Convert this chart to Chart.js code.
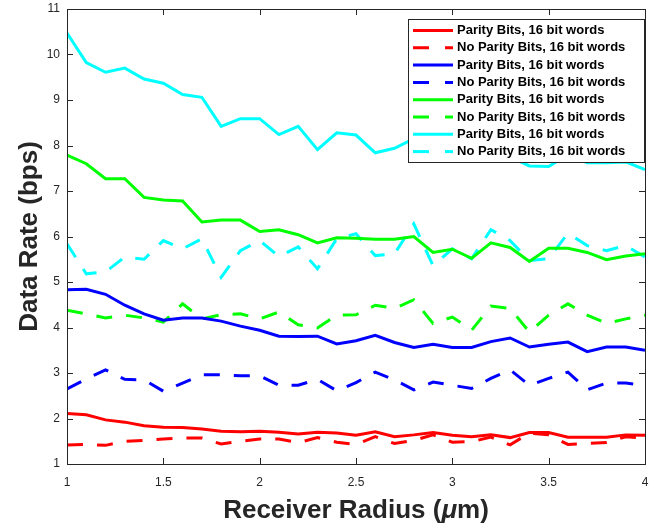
<!DOCTYPE html>
<html>
<head>
<meta charset="utf-8">
<script src="https://cdn.jsdelivr.net/npm/chart.js@4.4.1/dist/chart.umd.min.js"></script>
<style>
  html, body { margin: 0; padding: 0; background: #fff; }
  #wrap { width: 662px; height: 525px; }
</style>
</head>
<body>
<div id="wrap"><canvas id="myChart" width="662" height="525"></canvas></div>
<script>
// Receiver radius (um)
const radius = [1.0, 1.1, 1.2, 1.3, 1.4, 1.5, 1.6, 1.7, 1.8, 1.9, 2.0, 2.1, 2.2, 2.3, 2.4, 2.5,
                2.6, 2.7, 2.8, 2.9, 3.0, 3.1, 3.2, 3.3, 3.4, 3.5, 3.6, 3.7, 3.8, 3.9, 4.0];

const redParity = [2.11, 2.08, 1.97, 1.92, 1.84, 1.81, 1.80, 1.77, 1.72, 1.71, 1.72, 1.70, 1.66, 1.70, 1.68, 1.63,
                   1.71, 1.60, 1.64, 1.69, 1.63, 1.60, 1.64, 1.58, 1.69, 1.69, 1.59, 1.59, 1.59, 1.64, 1.63];
const redNoParity = [1.42, 1.43, 1.41, 1.50, 1.52, 1.55, 1.57, 1.57, 1.44, 1.50, 1.55, 1.55, 1.47, 1.58, 1.48, 1.43,
                     1.60, 1.45, 1.52, 1.64, 1.48, 1.49, 1.59, 1.42, 1.68, 1.64, 1.43, 1.45, 1.47, 1.60, 1.57];
const blueParity = [4.83, 4.84, 4.73, 4.49, 4.30, 4.16, 4.21, 4.21, 4.14, 4.03, 3.94, 3.81, 3.80, 3.81, 3.64, 3.71,
                    3.83, 3.67, 3.56, 3.63, 3.56, 3.56, 3.69, 3.77, 3.57, 3.63, 3.68, 3.47, 3.57, 3.57, 3.50];
const blueNoParity = [2.65, 2.87, 3.07, 2.86, 2.85, 2.60, 2.78, 2.96, 2.96, 2.94, 2.94, 2.73, 2.73, 2.86, 2.61, 2.79,
                      3.02, 2.85, 2.63, 2.80, 2.73, 2.66, 2.88, 3.07, 2.73, 2.88, 3.02, 2.63, 2.78, 2.78, 2.73];
const greenParity = [7.79, 7.60, 7.27, 7.27, 6.86, 6.80, 6.78, 6.32, 6.36, 6.36, 6.11, 6.15, 6.04, 5.86, 5.97, 5.96,
                     5.94, 5.94, 6.00, 5.65, 5.72, 5.52, 5.86, 5.76, 5.45, 5.74, 5.74, 5.65, 5.49, 5.57, 5.62];
const greenNoParity = [4.38, 4.30, 4.21, 4.27, 4.21, 4.12, 4.52, 4.19, 4.28, 4.30, 4.19, 4.34, 4.06, 3.99, 4.27, 4.28,
                       4.49, 4.42, 4.61, 4.09, 4.23, 3.94, 4.47, 4.42, 3.90, 4.27, 4.52, 4.27, 4.09, 4.19, 4.27];
const cyanParity = [10.47, 9.82, 9.61, 9.70, 9.46, 9.37, 9.12, 9.06, 8.42, 8.59, 8.59, 8.24, 8.42, 7.91, 8.28, 8.23,
                    7.84, 7.94, 8.15, 7.65, 7.75, 7.85, 7.90, 7.75, 7.55, 7.54, 7.80, 7.62, 7.62, 7.64, 7.47];
const cyanNoParity = [5.84, 5.18, 5.22, 5.55, 5.50, 5.91, 5.73, 5.95, 5.10, 5.69, 5.91, 5.56, 5.77, 5.29, 5.95, 6.06,
                      5.58, 5.62, 6.28, 5.36, 5.73, 5.51, 6.15, 5.91, 5.47, 5.51, 6.07, 5.80, 5.69, 5.80, 5.55];

const xTicks = [1, 1.5, 2, 2.5, 3, 3.5, 4];
const yTicks = [1, 2, 3, 4, 5, 6, 7, 8, 9, 10, 11];

const DASH = [16, 14];
const FONT = '"Liberation Sans", Arial, Helvetica, sans-serif';
const TEXT_COLOR = '#262626';

function series(label, values, color, dashed) {
    return {
        label: label,
        data: values.map((v, i) => ({ x: radius[i], y: v })),
        borderColor: color,
        backgroundColor: color,
        borderWidth: 3,
        borderDash: dashed ? DASH : [],
        pointRadius: 0,
        tension: 0,
        fill: false
    };
}

// axis box with inward ticks on all four sides (MATLAB style)
const boxPlugin = {
    id: 'boxPlugin',
    afterDatasetsDraw(chart) {
        const ctx = chart.ctx;
        const a = chart.chartArea;
        const xs = chart.scales.x, ys = chart.scales.y;
        ctx.save();
        ctx.strokeStyle = TEXT_COLOR;
        ctx.lineWidth = 1;
        ctx.beginPath();
        xTicks.forEach(t => {
            const px = Math.round(xs.getPixelForValue(t)) + 0.5;
            ctx.moveTo(px, a.bottom); ctx.lineTo(px, a.bottom - 6);
            ctx.moveTo(px, a.top); ctx.lineTo(px, a.top + 6);
        });
        yTicks.forEach(t => {
            const py = Math.round(ys.getPixelForValue(t)) + 0.5;
            ctx.moveTo(a.left, py); ctx.lineTo(a.left + 6, py);
            ctx.moveTo(a.right, py); ctx.lineTo(a.right - 6, py);
        });
        ctx.stroke();
        ctx.strokeRect(Math.round(a.left) + 0.5, Math.round(a.top) + 0.5,
                       Math.round(a.right - a.left), Math.round(a.bottom - a.top));
        ctx.restore();
    }
};

// x axis title with an italic mu, like the TeX label
const xTitlePlugin = {
    id: 'xTitle',
    afterDraw(chart) {
        const ctx = chart.ctx;
        const a = chart.chartArea;
        const parts = [
            { t: 'Receiver Radius (', f: 'bold 26px ' + FONT },
            { t: '\u03bc', f: 'italic bold 26px ' + FONT },
            { t: 'm)', f: 'bold 26px ' + FONT }
        ];
        ctx.save();
        let total = 0;
        parts.forEach(p => { ctx.font = p.f; p.w = ctx.measureText(p.t).width; total += p.w; });
        let x = (a.left + a.right) / 2 - total / 2;
        ctx.fillStyle = TEXT_COLOR;
        ctx.textBaseline = 'alphabetic';
        ctx.textAlign = 'left';
        parts.forEach(p => { ctx.font = p.f; ctx.fillText(p.t, x, 518); x += p.w; });
        ctx.restore();
    }
};

// legend drawn inside the plot, top right
const legendPlugin = {
    id: 'insideLegend',
    afterDraw(chart) {
        const ctx = chart.ctx;
        const a = chart.chartArea;
        const sets = chart.data.datasets;
        const right = a.right - 1, top = a.top + 10;
        const w = 236, rowH = 17.3;
        const h = rowH * sets.length + 5;
        const left = right - w;
        ctx.save();
        ctx.fillStyle = '#fff';
        ctx.fillRect(left, top, w, h);
        ctx.strokeStyle = TEXT_COLOR;
        ctx.lineWidth = 1;
        ctx.strokeRect(Math.round(left) + 0.5, Math.round(top) + 0.5, w, Math.round(h));
        ctx.font = 'bold 13px ' + FONT;
        ctx.textBaseline = 'middle';
        sets.forEach((ds, i) => {
            const y = top + 11.5 + i * rowH;
            ctx.strokeStyle = ds.borderColor;
            ctx.lineWidth = 3;
            ctx.setLineDash(ds.borderDash.length ? [16, 16] : []);
            ctx.beginPath();
            ctx.moveTo(left + 5, y);
            ctx.lineTo(left + 45, y);
            ctx.stroke();
            ctx.setLineDash([]);
            ctx.fillStyle = '#000';
            ctx.fillText(ds.label, left + 49, y);
        });
        ctx.restore();
    }
};

const ctx = document.getElementById('myChart').getContext('2d');
const myChart = new Chart(ctx, {
    type: 'line',
    data: {
        datasets: [
            series('Parity Bits, 16 bit words', redParity, '#ff0000', false),
            series('No Parity Bits, 16 bit words', redNoParity, '#ff0000', true),
            series('Parity Bits, 16 bit words', blueParity, '#0000ff', false),
            series('No Parity Bits, 16 bit words', blueNoParity, '#0000ff', true),
            series('Parity Bits, 16 bit words', greenParity, '#00ff00', false),
            series('No Parity Bits, 16 bit words', greenNoParity, '#00ff00', true),
            series('Parity Bits, 16 bit words', cyanParity, '#00ffff', false),
            series('No Parity Bits, 16 bit words', cyanNoParity, '#00ffff', true)
        ]
    },
    options: {
        responsive: false,
        animation: false,
        layout: { padding: { top: 9, right: 17, bottom: 0, left: 0 } },
        plugins: {
            legend: { display: false },
            tooltip: { enabled: false }
        },
        scales: {
            x: {
                type: 'linear',
                min: 1,
                max: 4,
                afterBuildTicks: s => { s.ticks = xTicks.map(v => ({ value: v })); },
                afterFit: s => { s.height = 61; s.paddingLeft = 0; s.paddingRight = 0; },
                grid: { display: false, drawTicks: false },
                border: { display: false },
                ticks: {
                    padding: 11,
                    color: TEXT_COLOR,
                    font: { family: FONT, size: 12 },
                    maxRotation: 0,
                    callback: v => String(v)
                },
                title: { display: false }
            },
            y: {
                type: 'linear',
                min: 1,
                max: 11,
                afterBuildTicks: s => { s.ticks = yTicks.map(v => ({ value: v })); },
                afterFit: s => { s.width = 67; s.paddingTop = 0; s.paddingBottom = 0; },
                grid: { display: false, drawTicks: false },
                border: { display: false },
                ticks: {
                    padding: 7,
                    color: TEXT_COLOR,
                    font: { family: FONT, size: 12 },
                    callback: v => String(v)
                },
                title: {
                    display: true,
                    text: 'Data Rate (bps)',
                    color: TEXT_COLOR,
                    font: { family: FONT, size: 26, weight: 'bold' },
                    padding: { top: 14, bottom: 0 }
                }
            }
        }
    },
    plugins: [boxPlugin, legendPlugin, xTitlePlugin]
});
</script>
</body>
</html>
